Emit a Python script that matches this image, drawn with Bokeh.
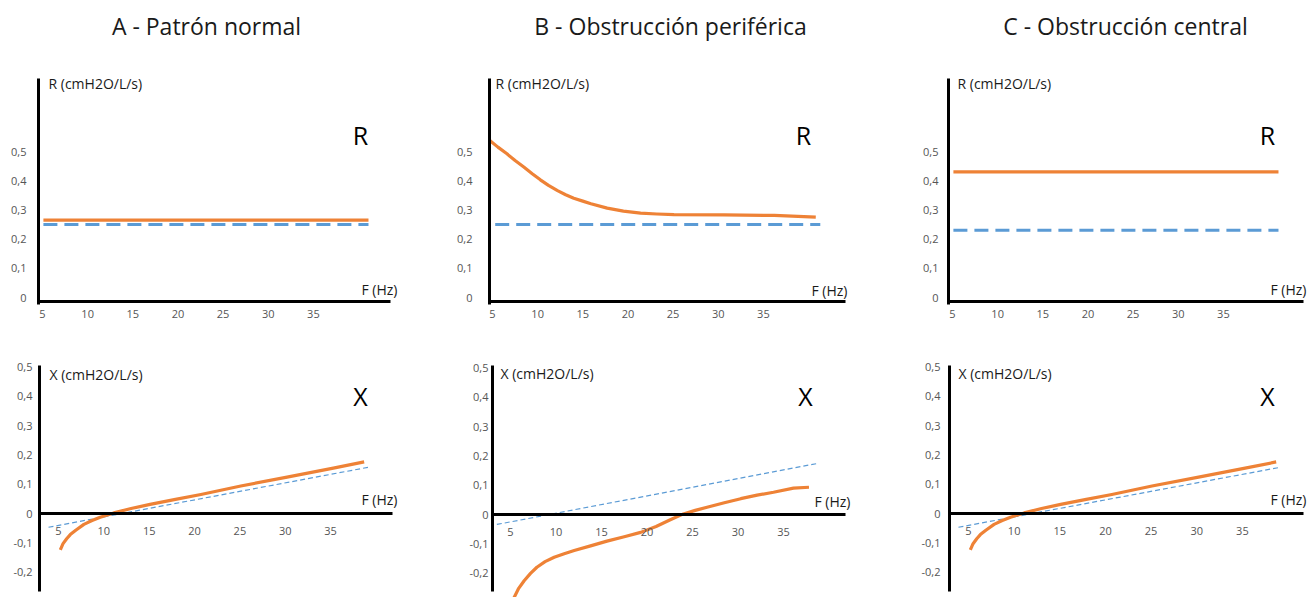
from bokeh.plotting import figure
from bokeh.models import Range1d, LinearAxis, FixedTicker, Label
from bokeh.layouts import column, row
from bokeh.embed import file_html
from bokeh.resources import INLINE

FONT = "Open Sans"
ORANGE = "#EE8236"
BLUE = "#5B9BD5"

# ---------------- data ----------------
titles = ["A - Patrón normal", "B - Obstrucción periférica", "C - Obstrucción central"]
r_axis_title = "R (cmH2O/L/s)"
x_axis_title = "X (cmH2O/L/s)"
freq_title = "F (Hz)"
freq_ticks = [5, 10, 15, 20, 25, 30, 35]
r_ticks = [0, 0.1, 0.2, 0.3, 0.4, 0.5]
r_tick_labels = ["0", "0,1", "0,2", "0,3", "0,4", "0,5"]
x_ticks = [-0.2, -0.1, 0, 0.1, 0.2, 0.3, 0.4, 0.5]
x_tick_labels = ["-0,2", "-0,1", "0", "0,1", "0,2", "0,3", "0,4", "0,5"]

# Resistance (R)
rA_f = [5.1, 41.1]
rA_meas = [0.265, 0.265]
rA_ref = [0.25, 0.25]

rB_meas_f = [4.7, 5.6, 6.6, 7.5, 8.5, 9.4, 10.3, 11.2, 12.2, 13.1, 14.0, 15.0, 15.9,
             17.7, 19.5, 21.4, 23.2, 25.1, 30.6, 36.2, 40.8]
rB_meas = [0.538, 0.515, 0.492, 0.469, 0.446, 0.424, 0.403, 0.384, 0.366, 0.352, 0.340,
           0.330, 0.321, 0.306, 0.296, 0.289, 0.286, 0.284, 0.283, 0.281, 0.275]
rB_ref_f = [5.3, 41.3]
rB_ref = [0.25, 0.25]

rC_f = [5.1, 41.1]
rC_meas = [0.43, 0.43]
rC_ref = [0.23, 0.23]

# Reactance (X)
xN_meas_f = [5.2, 5.5, 5.9, 6.3, 6.9, 7.8, 8.7, 9.6, 10.4, 11.1, 13.0, 15.1, 17.9,
             20.7, 25.1, 30.2, 35.3, 38.7]
xN_meas = [-0.124, -0.103, -0.086, -0.072, -0.057, -0.037, -0.024, -0.013, -0.005, 0.002,
           0.017, 0.031, 0.048, 0.065, 0.094, 0.124, 0.155, 0.176]
xN_ref_f = [3.9, 39.2]
xN_ref = [-0.047, 0.158]

xB_meas_f = [4.9, 5.4, 5.9, 6.5, 7.2, 7.9, 8.8, 9.8, 10.9, 12.0, 13.8, 15.6, 17.5, 19.3,
             21.0, 22.5, 24.0, 25.3, 26.6, 28.5, 30.3, 32.1, 33.9, 36.1, 37.8]
xB_meas = [-0.32, -0.283, -0.252, -0.226, -0.201, -0.180, -0.161, -0.146, -0.134, -0.123,
           -0.107, -0.091, -0.076, -0.061, -0.041, -0.019, 0.002, 0.014, 0.025, 0.040,
           0.054, 0.066, 0.076, 0.090, 0.093]
xB_ref_f = [3.5, 38.7]
xB_ref = [-0.034, 0.174]


# ---------------- panel builder ----------------
def make_panel(cfg):
    f5, pxhz, y0, pxu = cfg["f5"], cfg["pxhz"], cfg["y0"], cfg["pxu"]
    X = lambda px: 5 + (px - f5) / pxhz
    Y = lambda py: (y0 - py) / pxu
    L, T, W, H = cfg["box"]
    p = figure(width=W, height=H,
               x_range=Range1d(X(L), X(L + W)), y_range=Range1d(Y(T + H), Y(T)),
               output_backend="svg", toolbar_location=None, min_border=0,
               x_axis_location=None, y_axis_location=None,
               outline_line_color=None, background_fill_color="white",
               border_fill_color="white")
    p.grid.visible = False

    xa = LinearAxis(fixed_location=Y(cfg["xaxis_py"]),
                    bounds=(X(cfg["yaxis_px"]), X(cfg["xaxis_end"])),
                    ticker=FixedTicker(ticks=freq_ticks),
                    axis_line_width=3, axis_line_color="black",
                    major_tick_line_color=None, minor_tick_line_color=None,
                    major_tick_out=0, major_tick_in=0,
                    major_label_standoff=cfg["xstand"],
                    major_label_text_font=FONT, major_label_text_font_size="11px",
                    major_label_text_color="#555555")
    p.add_layout(xa, "below")

    yt, yl = cfg["yticks"]
    ya = LinearAxis(fixed_location=X(cfg["yaxis_px"]),
                    bounds=(Y(cfg["ybot"]), Y(cfg["ytop"])),
                    ticker=FixedTicker(ticks=yt),
                    major_label_overrides=dict(zip(yt, yl)),
                    axis_line_width=3, axis_line_color="black",
                    major_tick_line_color=None, minor_tick_line_color=None,
                    major_tick_out=0, major_tick_in=0,
                    major_label_standoff=cfg["ystand"],
                    major_label_text_font=FONT, major_label_text_font_size="11px",
                    major_label_text_color="#555555")
    p.add_layout(ya, "left")

    for (px, py, text, size, align, color) in cfg["texts"]:
        p.add_layout(Label(x=X(px), y=Y(py), text=text, text_font=FONT,
                           text_font_size=f"{size}px", text_align=align,
                           text_baseline="middle", text_color=color))

    for (fx, fy, kind) in cfg["lines"]:
        if kind == "meas":
            p.line(fx, fy, line_color=ORANGE, line_width=3.2, line_join="round")
        elif kind == "ref_thick":
            p.line(fx, fy, line_color=BLUE, line_width=3, line_dash="14 7")
        else:
            p.line(fx, fy, line_color=BLUE, line_width=1.2, line_dash="5 3")
    return p


TOP = dict(y0=297, pxu=292, ytop=78, ybot=304, xaxis_py=301, xstand=8,
           yticks=(r_ticks, r_tick_labels))
BOT = dict(pxu=293, ytop=365, ybot=591, xstand=13,
           yticks=(x_ticks, x_tick_labels))

cfgs_top = [
    dict(TOP, box=(0, 0, 440, 340), f5=42, pxhz=9.03, yaxis_px=38, xaxis_end=390, ystand=12,
         texts=[(206, 25, titles[0], 23, "center", "#1a1a1a"),
                (48, 82.5, r_axis_title, 14, "left", "#1a1a1a"),
                (360, 134, "R", 25, "center", "black"),
                (397, 289, freq_title, 14, "right", "#1a1a1a")],
         lines=[(rA_f, rA_meas, "meas"), (rA_f, rA_ref, "ref_thick")]),
    dict(TOP, box=(440, 0, 450, 340), f5=492, pxhz=9.03, yaxis_px=489, xaxis_end=845, ystand=17,
         texts=[(670, 25.5, titles[1], 23, "center", "#1a1a1a"),
                (495, 83, r_axis_title, 14, "left", "#1a1a1a"),
                (803, 134, "R", 25, "center", "black"),
                (847, 290, freq_title, 14, "right", "#1a1a1a")],
         lines=[(rB_meas_f, rB_meas, "meas"), (rB_ref_f, rB_ref, "ref_thick")]),
    dict(TOP, box=(890, 0, 419, 340), f5=952, pxhz=9.03, yaxis_px=948, xaxis_end=1303, ystand=10,
         texts=[(1125, 25.5, titles[2], 23, "center", "#1a1a1a"),
                (957, 83, r_axis_title, 14, "left", "#1a1a1a"),
                (1267, 134, "R", 25, "center", "black"),
                (1306, 289, freq_title, 14, "right", "#1a1a1a")],
         lines=[(rC_f, rC_meas, "meas"), (rC_f, rC_ref, "ref_thick")]),
]
cfgs_bot = [
    dict(BOT, box=(0, 340, 440, 257), f5=58, pxhz=9.07, y0=513, xaxis_py=513, yaxis_px=39,
         xaxis_end=392, ystand=7,
         texts=[(49, 373.5, x_axis_title, 14, "left", "#1a1a1a"),
                (360, 395, "X", 25, "center", "black"),
                (397, 499, freq_title, 14, "right", "#1a1a1a")],
         lines=[(xN_ref_f, xN_ref, "ref_thin"), (xN_meas_f, xN_meas, "meas")]),
    dict(BOT, box=(440, 340, 450, 257), f5=510, pxhz=9.1, y0=514, xaxis_py=514, yaxis_px=492,
         xaxis_end=845, ystand=4,
         texts=[(500, 373, x_axis_title, 14, "left", "#1a1a1a"),
                (805, 395, "X", 25, "center", "black"),
                (850, 501, freq_title, 14, "right", "#1a1a1a")],
         lines=[(xB_ref_f, xB_ref, "ref_thin"), (xB_meas_f, xB_meas, "meas")]),
    dict(BOT, box=(890, 340, 419, 257), f5=968, pxhz=9.13, y0=513, xaxis_py=513, yaxis_px=949,
         xaxis_end=1303, ystand=9,
         texts=[(958, 373, x_axis_title, 14, "left", "#1a1a1a"),
                (1267, 395, "X", 25, "center", "black"),
                (1306, 499, freq_title, 14, "right", "#1a1a1a")],
         lines=[(xN_ref_f, xN_ref, "ref_thin"), (xN_meas_f, xN_meas, "meas")]),
]

top_row = row(*[make_panel(c) for c in cfgs_top])
bot_row = row(*[make_panel(c) for c in cfgs_bot])
layout = column(top_row, bot_row)

open("out.html", "w").write(file_html(layout, INLINE))
